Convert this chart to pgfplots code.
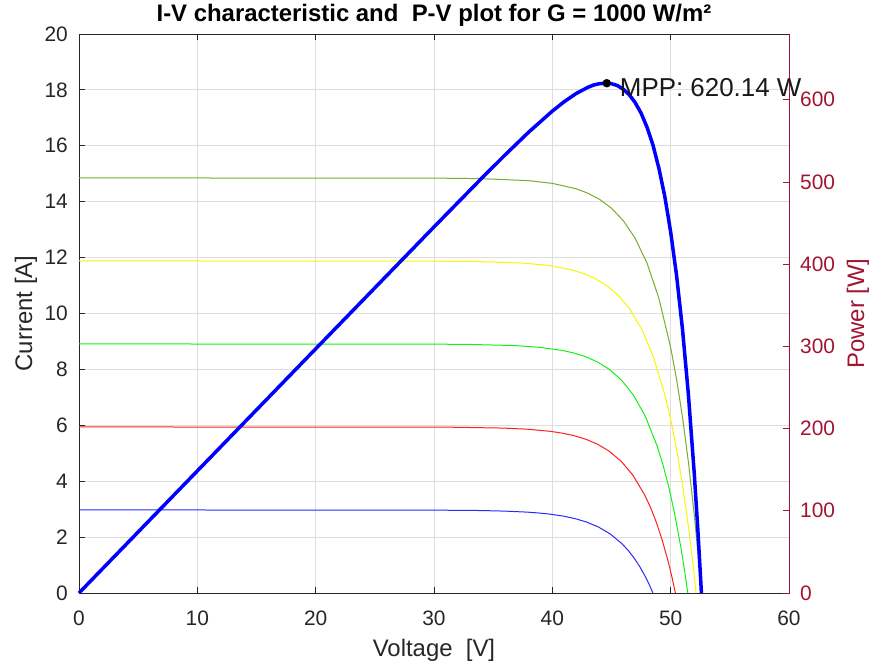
\documentclass[border=0pt]{standalone}
\usepackage{fontspec}
\setmainfont{Liberation Sans}
\usepackage{pgfplots}
\pgfplotsset{compat=1.18}
\definecolor{axgray}{RGB}{38,38,38}
\definecolor{gridgray}{RGB}{222,222,222}
\definecolor{powred}{RGB}{162,20,47}
\definecolor{olive}{RGB}{119,172,48}
\definecolor{cblue}{RGB}{40,40,255}
\definecolor{cred}{RGB}{255,30,30}
\definecolor{cgreen}{RGB}{20,240,20}
\definecolor{cyellow}{RGB}{250,245,0}
\begin{document}
\begin{tikzpicture}
\path[use as bounding box] (-79bp,-74bp) rectangle (796bp,593bp);
\begin{axis}[
  width=710bp, height=559bp, scale only axis,
  at={(0,0)}, anchor=south west,
  xmin=0, xmax=60, ymin=0, ymax=20,
  xtick={0,10,...,60}, ytick={0,2,...,20},
  xtick pos=both, ytick pos=left,
  tick align=inside, major tick length=6bp,
  grid=major, major grid style={gridgray, line width=0.8bp},
  axis line style={axgray, line width=0.8bp},
  every tick/.style={axgray, line width=0.8bp},
  /pgf/number format/assume math mode=true,
  ticklabel style={font=\fontsize{21}{21}\selectfont, text=axgray, inner sep=0pt},
  xticklabel style={anchor=center, yshift=-25bp},
  yticklabel style={anchor=east, xshift=-11bp},
  every axis x label/.style={at={(rel axis cs:0.5,0)}, yshift=-57bp, anchor=center, font=\fontsize{24}{24}\selectfont, text=axgray},
  every axis y label/.style={at={(rel axis cs:0,0.5)}, xshift=-53bp, rotate=90, anchor=center, font=\fontsize{24}{24}\selectfont, text=axgray},
  every axis title/.style={at={(rel axis cs:0.5,1)}, yshift=19bp, anchor=center, font=\fontsize{24}{24}\selectfont\bfseries, text=black},
  xlabel={Voltage~~[V]}, ylabel={Current [A]},
  title={I-V characteristic and~~P-V plot for G = 1000 W/m²},
]
% G = 200
\addplot[cblue, line width=1bp] coordinates {
 (0,2.97) (25.9,2.969) (29.9,2.965) (33.9,2.951) (35.9,2.931) (37.9,2.893) (38.9,2.861)
 (39.9,2.816) (40.9,2.753) (41.9,2.664) (42.9,2.538) (43.9,2.361) (44.9,2.110) (45.9,1.757)
 (46.4,1.529) (46.9,1.258) (47.4,0.936) (47.9,0.554) (48.2,0.291) (48.5,0)};
% G = 400
\addplot[cred, line width=1bp] coordinates {
 (0,5.94) (27.8,5.937) (31.8,5.930) (35.8,5.901) (37.8,5.863) (39.8,5.786) (40.8,5.722)
 (41.8,5.633) (42.8,5.506) (43.8,5.328) (44.8,5.076) (45.8,4.722) (46.8,4.220) (47.8,3.514)
 (48.3,3.058) (48.8,2.516) (49.3,1.873) (49.8,1.109) (50.1,0.583) (50.4,0)};
% G = 600
\addplot[cgreen, line width=1bp] coordinates {
 (0,8.91) (28.85,8.906) (32.85,8.895) (36.85,8.852) (38.85,8.794) (40.85,8.678) (41.85,8.583)
 (42.85,8.449) (43.85,8.259) (44.85,7.992) (45.85,7.614) (46.85,7.083) (47.85,6.331) (48.85,5.270)
 (49.35,4.587) (49.85,3.774) (50.35,2.809) (50.85,1.664) (51.15,0.874) (51.45,0)};
% G = 800
\addplot[cyellow, line width=1bp] coordinates {
 (0,11.88) (29.55,11.875) (33.55,11.860) (37.55,11.802) (39.55,11.725) (41.55,11.571) (42.55,11.444)
 (43.55,11.265) (44.55,11.013) (45.55,10.656) (46.55,10.153) (47.55,9.443) (48.55,8.441) (49.55,7.027)
 (50.05,6.116) (50.55,5.032) (51.05,3.746) (51.55,2.218) (51.85,1.165) (52.15,0)};
% G = 1000
\addplot[olive, line width=1bp] coordinates {
 (0,14.85) (30.0,14.844) (34.0,14.825) (38.0,14.753) (40.0,14.656) (42.0,14.464) (43.0,14.305)
 (44.0,14.081) (45.0,13.766) (46.0,13.320) (47.0,12.691) (48.0,11.804) (49.0,10.551) (50.0,8.784)
 (50.5,7.645) (51.0,6.290) (51.5,4.682) (52.0,2.772) (52.3,1.457) (52.6,0)};
\end{axis}
\begin{axis}[
  width=710bp, height=559bp, scale only axis,
  at={(0,0)}, anchor=south west,
  xmin=0, xmax=60, ymin=0, ymax=680,
  axis x line=none, axis y line*=right,
  ytick={0,100,...,600},
  tick align=inside, major tick length=6bp,
  axis line style={powred, line width=0.8bp},
  every tick/.style={powred, line width=0.8bp},
  /pgf/number format/assume math mode=true,
  ticklabel style={font=\fontsize{21}{21}\selectfont, text=powred, inner sep=0pt},
  yticklabel style={anchor=west, xshift=11bp},
  every axis y label/.style={at={(rel axis cs:1,0.5)}, xshift=69bp, rotate=90, anchor=center, font=\fontsize{24}{24}\selectfont, text=powred},
  ylabel={Power [W]},
  clip=false,
]
\addplot[blue, line width=3.5bp] coordinates {
 (0,0) (10,148.5) (20,297) (30,445.3) (34,504.1) (36,532.8) (38,560.6) (40,586.2) (41,597.6)
 (42,607.5) (43,615.1) (43.5,618.0) (44,619.6) (44.5,620.14) (45,619.5) (45.5,617.3) (46,612.7)
 (46.5,606.2) (47,596.5) (47.5,583.8) (48,566.6) (48.5,545.1) (49,517.0) (49.5,482.7) (50,439.2)
 (50.5,386.1) (51,320.8) (51.5,241.1) (52,144.1) (52.3,76.2) (52.6,0)};
\addplot[only marks, mark=*, mark size=4bp, black] coordinates {(44.6,620.14)};
\coordinate (mpp) at (axis cs:44.6,620.14);
\end{axis}
\node[anchor=west, xshift=13bp, yshift=-4.5bp, inner sep=0pt, font=\fontsize{26}{26}\selectfont, text=black!90] at (mpp) {MPP: 620.14 W};
\end{tikzpicture}
\end{document}
